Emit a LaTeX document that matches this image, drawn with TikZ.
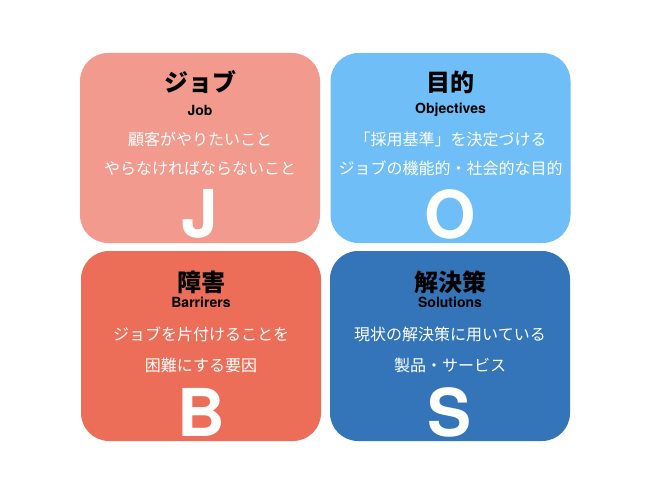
\documentclass[tikz,border=0pt]{standalone}
\usepackage{fontspec}
\setmainfont{TeX Gyre Heros}
\newfontfamily\jp{Noto Sans CJK JP}
\definecolor{cJ}{HTML}{F29A8E}
\definecolor{cO}{HTML}{6FBEF7}
\definecolor{cB}{HTML}{EC6E58}
\definecolor{cS}{HTML}{3375B8}
\tikzset{
  card/.style={rounded corners=28pt, minimum width=240pt, minimum height=190pt, inner sep=0pt, draw=none},
  ttl/.style={font=\jp\bfseries\fontsize{24}{24}\selectfont, inner sep=0pt},
  subt/.style={font=\bfseries\fontsize{14}{15}\selectfont, inner sep=0pt},
  body/.style={text=white, font=\jp\fontsize{16}{17}\selectfont, inner sep=0pt},
  big/.style={text=white, font=\bfseries\fontsize{66}{66}\selectfont, anchor=base, inner sep=0pt}
}
\begin{document}
\begin{tikzpicture}[x=1pt,y=-1pt]
\useasboundingbox (0,0) rectangle (650,500);
% Job
\node[card, fill=cJ] (jbox) at (200,148) {};
\node[ttl] (jt) at (200,82) {ジョブ};
\node[subt] (js) at (200,110) {Job};
\node[body] (j1) at (200,139) {顧客がやりたいこと};
\node[body] (j2) at (200,168) {やらなければならないこと};
\node[big] (jl) at (200,237) {J};
% Objectives
\node[card, fill=cO] (obox) at (450.5,148) {};
\node[ttl] (ot) at (450.5,82) {目的};
\node[subt] (os) at (450.5,110) {Objectives};
\node[body] (o1) at (450.5,139) {「採用基準」を決定づける};
\node[body] (o2) at (450.5,168) {ジョブの機能的・社会的な目的};
\node[big] (ol) at (450.5,238) {O};
% Barriers
\node[card, fill=cB] (bbox) at (201,346) {};
\node[ttl] (bt) at (201,282) {障害};
\node[subt] (bs) at (201,302) {Barrirers};
\node[body] (b1) at (201,334) {ジョブを片付けることを};
\node[body] (b2) at (201,365) {困難にする要因};
\node[big] (bl) at (201,436) {B};
% Solutions
\node[card, fill=cS] (sbox) at (450,346) {};
\node[ttl] (st) at (450,282) {解決策};
\node[subt] (ss) at (450,302) {Solutions};
\node[body] (s1) at (450,334) {現状の解決策に用いている};
\node[body] (s2) at (450,365) {製品・サービス};
\node[big] (sl) at (450,436) {S};
\end{tikzpicture}
\end{document}
